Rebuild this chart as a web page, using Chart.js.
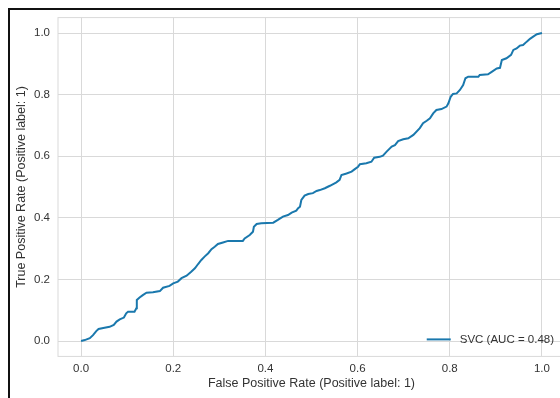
<!DOCTYPE html>
<html>
<head>
<meta charset="utf-8">
<script src="https://cdn.jsdelivr.net/npm/chart.js@4/dist/chart.umd.min.js"></script>
<style>
    html, body { margin: 0; padding: 0; background: #fff; overflow: hidden; }
    #wrap { position: relative; width: 560px; height: 398px; overflow: hidden; }
    #chart { position: absolute; left: 0; top: 0; }
    #frame {
        position: absolute; left: 8px; top: 8px; width: 600px; height: 420px;
        border-left: 2px solid #111; border-top: 2px solid #111;
        pointer-events: none;
    }
</style>
</head>
<body>
<div id="wrap">
    <canvas id="chart" width="600" height="398"></canvas>
    <div id="frame"></div>
</div>
<script>
// ROC curve
const fpr = [0, 0.008, 0.019, 0.026, 0.033, 0.038, 0.051, 0.062, 0.071, 0.077, 0.084, 0.093, 0.098, 0.102,
    0.116, 0.120, 0.121, 0.127, 0.134, 0.142, 0.156, 0.171, 0.178, 0.192, 0.200, 0.210, 0.218, 0.229,
    0.239, 0.247, 0.254, 0.261, 0.268, 0.276, 0.283, 0.290, 0.297, 0.308, 0.319, 0.351, 0.355, 0.366,
    0.373, 0.375, 0.381, 0.391, 0.417, 0.427, 0.438, 0.449, 0.457, 0.467, 0.471, 0.475, 0.478, 0.485,
    0.493, 0.503, 0.511, 0.518, 0.529, 0.540, 0.554, 0.561, 0.565, 0.576, 0.587, 0.594, 0.601, 0.605,
    0.619, 0.630, 0.636, 0.648, 0.655, 0.663, 0.674, 0.681, 0.688, 0.699, 0.710, 0.721, 0.735, 0.742,
    0.750, 0.757, 0.764, 0.771, 0.782, 0.793, 0.797, 0.802, 0.807, 0.815, 0.822, 0.829, 0.834, 0.840,
    0.862, 0.865, 0.883, 0.891, 0.902, 0.909, 0.913, 0.923, 0.933, 0.938, 0.945, 0.952, 0.959, 0.967,
    0.974, 0.981, 0.989, 1.0];
const tpr = [0, 0.003, 0.009, 0.019, 0.032, 0.039, 0.043, 0.046, 0.052, 0.063, 0.070, 0.076, 0.090, 0.095,
    0.095, 0.106, 0.133, 0.141, 0.149, 0.157, 0.158, 0.162, 0.173, 0.179, 0.187, 0.193, 0.204, 0.212,
    0.225, 0.236, 0.250, 0.263, 0.274, 0.285, 0.298, 0.306, 0.315, 0.320, 0.325, 0.325, 0.333, 0.344,
    0.355, 0.371, 0.380, 0.382, 0.384, 0.393, 0.404, 0.409, 0.417, 0.423, 0.431, 0.436, 0.458, 0.472,
    0.477, 0.480, 0.487, 0.490, 0.496, 0.504, 0.515, 0.523, 0.539, 0.544, 0.550, 0.558, 0.566, 0.574,
    0.577, 0.582, 0.595, 0.598, 0.602, 0.615, 0.631, 0.636, 0.649, 0.655, 0.658, 0.669, 0.691, 0.707,
    0.715, 0.723, 0.739, 0.750, 0.753, 0.761, 0.772, 0.793, 0.802, 0.804, 0.815, 0.831, 0.853, 0.858,
    0.858, 0.864, 0.866, 0.874, 0.885, 0.887, 0.912, 0.918, 0.929, 0.945, 0.950, 0.959, 0.961, 0.972,
    0.981, 0.988, 0.996, 1.0];
const seriesLabel = 'SVC (AUC = 0.48)';
const xTicks = [0, 0.2, 0.4, 0.6, 0.8, 1.0];
const yTicks = [0, 0.2, 0.4, 0.6, 0.8, 1.0];
const xTitle = 'False Positive Rate (Positive label: 1)';
const yTitle = 'True Positive Rate (Positive label: 1)';

const FONT = "'Liberation Sans', Arial, sans-serif";
const LINE_COLOR = '#1a78ad';
const GRID_COLOR = '#d9d9d9';
const TEXT_COLOR = '#333333';

// Frame around the plotting area (matplotlib-like spines)
const framePlugin = {
    id: 'frame',
    beforeDatasetsDraw(chart) {
        const a = chart.chartArea;
        const ctx = chart.ctx;
        ctx.save();
        ctx.strokeStyle = GRID_COLOR;
        ctx.lineWidth = 1;
        ctx.strokeRect(a.left, a.top, a.right - a.left, a.bottom - a.top);
        ctx.restore();
    }
};

// Legend drawn inside the plot, lower right
const innerLegend = {
    id: 'innerLegend',
    afterDraw(chart) {
        const a = chart.chartArea;
        const ctx = chart.ctx;
        const ds = chart.data.datasets[0];
        ctx.save();
        ctx.font = '11.5px ' + FONT;
        const w = ctx.measureText(ds.label).width;
        const y = a.bottom - 17;
        const textX = a.right - 11 - w;
        ctx.strokeStyle = ds.borderColor;
        ctx.lineWidth = 2;
        ctx.beginPath();
        ctx.moveTo(textX - 33, y);
        ctx.lineTo(textX - 9, y);
        ctx.stroke();
        ctx.fillStyle = TEXT_COLOR;
        ctx.textBaseline = 'middle';
        ctx.fillText(ds.label, textX, y);
        ctx.restore();
    }
};

const fixedTicks = list => scale => { scale.ticks = list.map(v => ({ value: v })); };

new Chart(document.getElementById('chart').getContext('2d'), {
    type: 'line',
    data: {
        datasets: [{
            label: seriesLabel,
            data: fpr.map((x, i) => ({ x: x, y: tpr[i] })),
            borderColor: LINE_COLOR,
            borderWidth: 2,
            pointRadius: 0,
            fill: false,
            tension: 0
        }]
    },
    options: {
        responsive: false,
        animation: false,
        layout: { padding: { left: 0, top: 17.6, right: 35, bottom: 0 } },
        plugins: {
            legend: { display: false },
            tooltip: { enabled: false }
        },
        scales: {
            x: {
                type: 'linear',
                min: -0.05,
                max: 1.05,
                afterBuildTicks: fixedTicks(xTicks),
                afterFit(scale) { scale.height = 41.6; },
                grid: { color: GRID_COLOR, lineWidth: 1, drawTicks: false },
                border: { display: false },
                ticks: {
                    padding: 6,
                    color: TEXT_COLOR,
                    font: { family: FONT, size: 11.5 },
                    maxRotation: 0,
                    callback: v => v.toFixed(1)
                },
                title: {
                    display: true,
                    text: xTitle,
                    color: TEXT_COLOR,
                    font: { family: FONT, size: 12.5 },
                    padding: { top: 0, bottom: 6.5 }
                }
            },
            y: {
                type: 'linear',
                min: -0.05,
                max: 1.05,
                afterBuildTicks: fixedTicks(yTicks),
                afterFit(scale) { scale.width = 58; },
                grid: { color: GRID_COLOR, lineWidth: 1, drawTicks: false },
                border: { display: false },
                ticks: {
                    padding: 8,
                    color: TEXT_COLOR,
                    font: { family: FONT, size: 11.5 },
                    callback: v => v.toFixed(1)
                },
                title: {
                    display: true,
                    text: yTitle,
                    color: TEXT_COLOR,
                    font: { family: FONT, size: 12.5 },
                    padding: { top: 14.5, bottom: 0 }
                }
            }
        }
    },
    plugins: [framePlugin, innerLegend]
});
</script>
</body>
</html>
